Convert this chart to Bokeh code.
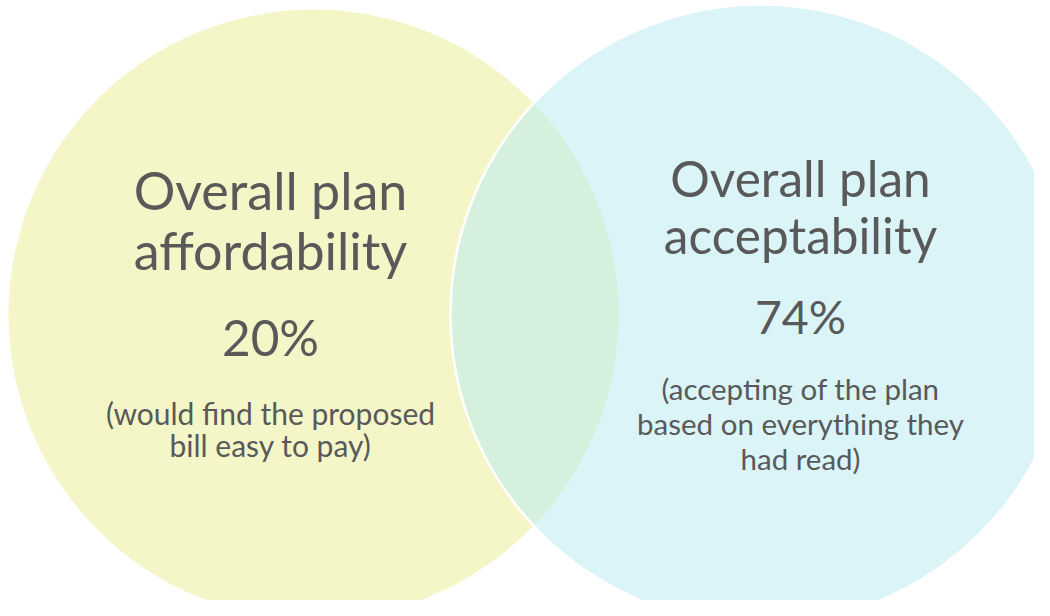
from bokeh.plotting import figure
from bokeh.models import Range1d
from bokeh.embed import file_html
from bokeh.resources import INLINE
from bokeh.core.properties import value

# ---- data ----
set_titles = ["Overall plan\naffordability", "Overall plan\nacceptability"]
set_values = [20, 74]
set_notes = ["(would find the proposed\nbill easy to pay)",
             "(accepting of the plan\nbased on everything they\nhad read)"]

# ---- layout (screen-pixel coordinates) ----
circle_x = [313, 760]
circle_y = [314, 314]
circle_r = [305, 310]
fills = ["#F4F6C8", "#B5E9F1"]
alphas = [1.0, 0.5]

text_x = [270, 800]
title_base = [189, 177]
title_lh = [60, 57]
title_size = [52, 49.5]
value_size = [49.5, 46.5]
value_base = [336, 315]
note_base = [412, 388]
note_lh = [32, 35]
note_size = [30, 29.5]

FONT = "Lato"
TXT = "#595959"

W, H = 1034, 600
p = figure(width=W, height=H, output_backend="svg", toolbar_location=None,
           x_range=Range1d(0, W), y_range=Range1d(H, 0),
           min_border=0, outline_line_color=None)
p.axis.visible = False
p.grid.visible = False
p.background_fill_color = "white"
p.border_fill_color = "white"

for i in range(2):
    p.circle(x=[circle_x[i]], y=[circle_y[i]], radius=circle_r[i],
             fill_color=fills[i], fill_alpha=alphas[i],
             line_color="white" if i == 1 else None, line_width=2.5)

for i in range(2):
    lines = set_titles[i].split("\n")
    p.text(x=[text_x[i]] * len(lines),
           y=[title_base[i] + k * title_lh[i] for k in range(len(lines))],
           text=lines, text_align="center", text_baseline="alphabetic",
           text_font=value(FONT), text_font_size=f"{title_size[i]}px",
           text_color=TXT)
    p.text(x=[text_x[i]], y=[value_base[i]], text=[f"{set_values[i]}%"],
           text_align="center", text_baseline="alphabetic",
           text_font=value(FONT), text_font_size=f"{value_size[i]}px",
           text_color=TXT)
    nl = set_notes[i].split("\n")
    p.text(x=[text_x[i]] * len(nl),
           y=[note_base[i] + k * note_lh[i] for k in range(len(nl))],
           text=nl, text_align="center", text_baseline="alphabetic",
           text_font=value(FONT), text_font_size=f"{note_size[i]}px",
           text_color=TXT)

open("out.html", "w").write(file_html(p, INLINE))
